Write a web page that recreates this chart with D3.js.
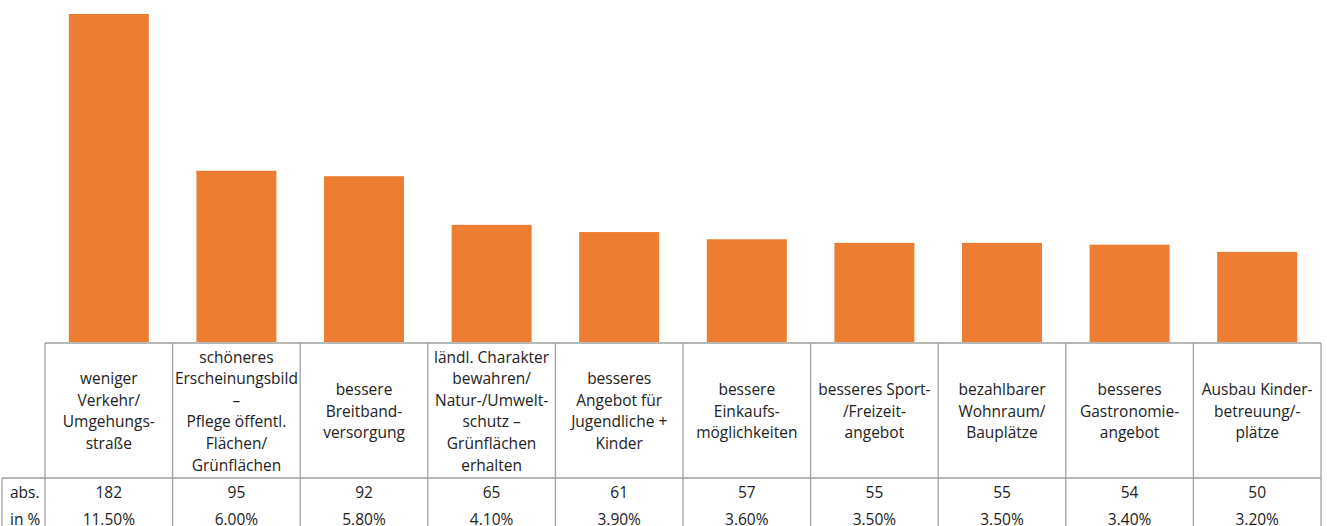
<!DOCTYPE html>
<html><head><meta charset="utf-8">
<script src="https://cdn.jsdelivr.net/npm/d3@7"></script>
<style>body{margin:0;background:#fff}svg{display:block}</style>
</head><body>
<svg id="c" width="1327" height="526"></svg>
<script>
const categories = [
  ["weniger","Verkehr/","Umgehungs-","straße"],
  ["schöneres","Erscheinungsbild","–","Pflege öffentl.","Flächen/","Grünflächen"],
  ["bessere","Breitband-","versorgung"],
  ["ländl. Charakter","bewahren/","Natur-/Umwelt-","schutz –","Grünflächen","erhalten"],
  ["besseres","Angebot für","Jugendliche +","Kinder"],
  ["bessere","Einkaufs-","möglichkeiten"],
  ["besseres Sport-","/Freizeit-","angebot"],
  ["bezahlbarer","Wohnraum/","Bauplätze"],
  ["besseres","Gastronomie-","angebot"],
  ["Ausbau Kinder-","betreuung/-","plätze"]
];
const absValues = [182,95,92,65,61,57,55,55,54,50];
const pctLabels = ["11,50%","6,00%","5,80%","4,10%","3,90%","3,60%","3,50%","3,50%","3,40%","3,20%"].map(s=>s.replace(",", "."));
const rowLabels = ["abs.","in %"];

const svg = d3.select("#c");
const font = "'Open Sans', 'Liberation Sans', sans-serif";
const left = 45, right = 1321, baseline = 342;
const tableTop = 343, catBottom = 478, tableBottom = 540;
const idx = d3.range(categories.length);
const x = d3.scaleBand().domain(idx).range([left, right]).paddingInner(0).paddingOuter(0);
const y = d3.scaleLinear().domain([0,182]).range([baseline, 14]);
const barW = 80;

svg.append("g").selectAll("rect").data(absValues).join("rect")
  .attr("x",(d,i)=>x(i)+x.bandwidth()/2-barW/2)
  .attr("width",barW)
  .attr("y",d=>y(d))
  .attr("height",d=>baseline-y(d))
  .attr("fill","#ED7D31");

const lineColor = "#a0a0a0";
const g = svg.append("g").attr("stroke",lineColor).attr("stroke-width",1.3);
// horizontal lines
g.append("line").attr("x1",left).attr("x2",right).attr("y1",tableTop).attr("y2",tableTop);
g.append("line").attr("x1",2).attr("x2",right).attr("y1",catBottom).attr("y2",catBottom);
// vertical lines
const bounds = idx.map(i=>x(i)).concat([right]);
g.selectAll("line.v").data(bounds).join("line").attr("class","v")
  .attr("x1",d=>d).attr("x2",d=>d).attr("y1",tableTop).attr("y2",tableBottom);
g.append("line").attr("x1",2).attr("x2",2).attr("y1",catBottom).attr("y2",tableBottom);

const fs = 15.5, lh = 21.6;
const catMid = (tableTop+catBottom)/2;
const tg = svg.append("g").attr("font-family",font).attr("font-size",fs).attr("fill","#222").attr("text-anchor","middle");
categories.forEach((lines,i)=>{
  const cx = x(i)+x.bandwidth()/2;
  const y0 = catMid - (lines.length-1)*lh/2;
  const t = tg.append("text").attr("dominant-baseline","central");
  lines.forEach((l,j)=>t.append("tspan").attr("x",cx).attr("y",y0+j*lh).text(l));
});
tg.selectAll("text.abs").data(absValues).join("text").attr("class","abs")
  .attr("x",(d,i)=>x(i)+x.bandwidth()/2).attr("y",492).attr("dominant-baseline","central").text(d=>d);
tg.selectAll("text.pct").data(pctLabels).join("text").attr("class","pct")
  .attr("x",(d,i)=>x(i)+x.bandwidth()/2).attr("y",519).attr("dominant-baseline","central").text(d=>d);
rowLabels.forEach((r,j)=>{
  tg.append("text").attr("x",10).attr("text-anchor","start").attr("y",492+27*j).attr("dominant-baseline","central").text(r);
});
</script>
</body></html>
